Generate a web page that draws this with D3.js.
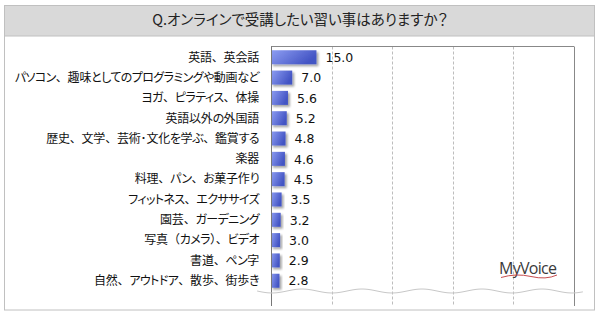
<!DOCTYPE html>
<html><head><meta charset="utf-8">
<script src="https://cdn.jsdelivr.net/npm/d3@7"></script>
<style>
html,body{margin:0;padding:0;background:#fff;}
svg{display:block;}
.lbl{font-family:"Noto Sans CJK JP","Noto Sans",sans-serif;font-feature-settings:"palt";}
.np{font-feature-settings:normal;}
</style></head>
<body>
<svg id="c" width="600" height="315"></svg>
<script>
const title = "Q.オンラインで受講したい習い事はありますか？";
const categories = ["英語、英会話","パソコン、趣味としてのプログラミングや動画など","ヨガ、ピラティス、体操","英語以外の外国語","歴史、文学、芸術･文化を学ぶ、鑑賞する","楽器","料理、パン、お菓子作り","フィットネス、エクササイズ","園芸、ガーデニング","写真（カメラ）、ビデオ","書道、ペン字","自然、アウトドア、散歩、街歩き"];
const values = [15.0,7.0,5.6,5.2,4.8,4.6,4.5,3.5,3.2,3.0,2.9,2.8];
const gridTicks = [20,40,60,80,100];

const svg = d3.select("#c");
const defs = svg.append("defs");
const g = defs.append("linearGradient").attr("id","bg").attr("x1","0").attr("x2","1").attr("y1","0").attr("y2","0.4");
g.append("stop").attr("offset","0").attr("stop-color","#8e9ef2");
g.append("stop").attr("offset","1").attr("stop-color","#4354c4");
const f = defs.append("filter").attr("id","sh").attr("x","-20%").attr("y","-30%").attr("width","150%").attr("height","180%");
f.append("feDropShadow").attr("dx",2).attr("dy",2).attr("stdDeviation",1.3).attr("flood-color","#000").attr("flood-opacity",0.35);

// frame
svg.append("rect").attr("x",4.5).attr("y",5.5).attr("width",590).attr("height",304.5).attr("fill","#fff").attr("stroke","#c0c0c0").attr("stroke-width",1);
svg.append("rect").attr("x",4.5).attr("y",5.5).attr("width",590).attr("height",30.5).attr("fill","#d9d9d9").attr("stroke","#c0c0c0").attr("stroke-width",1);
svg.append("text").attr("class","lbl").attr("x",300).attr("y",25).attr("text-anchor","middle")
  .attr("font-size",14.5).attr("fill","#222").text(title);

const x = d3.scaleLinear().domain([0,100]).range([271,574]);
const y = d3.scaleBand().domain(categories).range([47,291]).paddingInner(0.31).paddingOuter(0.16);
const plotTop = 46.5, plotBot = 306;

// gridlines
svg.append("g").selectAll("line").data(gridTicks.slice(0,-1)).join("line")
  .attr("x1",d=>Math.round(x(d))+0.5).attr("x2",d=>Math.round(x(d))+0.5)
  .attr("y1",plotTop).attr("y2",plotBot)
  .attr("stroke","#bdbdbd").attr("stroke-dasharray","3,2");
svg.append("line").attr("x1",x(0)).attr("x2",x(100)).attr("y1",plotTop).attr("y2",plotTop).attr("stroke","#888");
svg.append("line").attr("x1",Math.round(x(100))+0.5).attr("x2",Math.round(x(100))+0.5).attr("y1",plotTop).attr("y2",plotBot).attr("stroke","#888");

// bars
svg.append("g").selectAll("rect").data(values).join("rect")
  .attr("x",x(0)).attr("y",(d,i)=>y(categories[i]))
  .attr("width",d=>x(d)-x(0)).attr("height",y.bandwidth())
  .attr("fill","url(#bg)").attr("filter","url(#sh)");

svg.append("line").attr("x1",Math.round(x(0))+0.5).attr("x2",Math.round(x(0))+0.5).attr("y1",plotTop).attr("y2",plotBot).attr("stroke","#777");

// category labels: punctuation full width, kana proportional & tighter
function kind(ch){
  if("、（）".includes(ch)) return "p";
  if(/[\u3040-\u30ff]/.test(ch)) return "k";
  return "o";
}
function runs(s){
  const out=[]; for(const ch of s){ const k = kind(ch);
    if(out.length && out[out.length-1].k===k) out[out.length-1].t+=ch; else out.push({t:ch,k}); }
  return out;
}
const lab = svg.append("g").selectAll("text").data(categories).join("text")
  .attr("class","lbl").attr("x",259).attr("y",d=>y(d)+y.bandwidth()/2).attr("dy","0.36em")
  .attr("text-anchor","end").attr("font-size",12).attr("fill","#111");
lab.selectAll("tspan").data(d=>runs(d)).join("tspan")
  .attr("class",d=>d.k==="p"?"np":null)
  .attr("letter-spacing",d=>d.k==="k"?-0.6:-0.2)
  .text(d=>d.t);

// value labels
svg.append("g").selectAll("text").data(values).join("text")
  .attr("x",d=>x(d)+9).attr("y",(d,i)=>y(categories[i])+y.bandwidth()/2).attr("dy","0.38em")
  .attr("font-family","DejaVu Sans, Verdana, sans-serif").attr("font-size",12.5).attr("fill","#111")
  .text(d=>d.toFixed(1));

// wavy break line
const wave = [];
for(let px=257; px<=583; px+=2){ wave.push([px, 291 + 2*Math.sin((px-257)/60*2*Math.PI)]); }
svg.append("path").attr("d",d3.line().curve(d3.curveBasis)(wave)).attr("fill","none").attr("stroke","#c8c8c8").attr("stroke-width",1);

// logo
svg.append("text").attr("x",499).attr("y",274).attr("font-family","Open Sans, Liberation Sans, sans-serif")
  .attr("font-size",16).attr("letter-spacing",-0.7).attr("fill","#3a3a3a").text("MyVoice");
svg.append("path").attr("d","M501,277.5 Q516,273 531,276.5 T557,275").attr("fill","none").attr("stroke","#c0393b").attr("stroke-width",0.9);
</script>
</body></html>
